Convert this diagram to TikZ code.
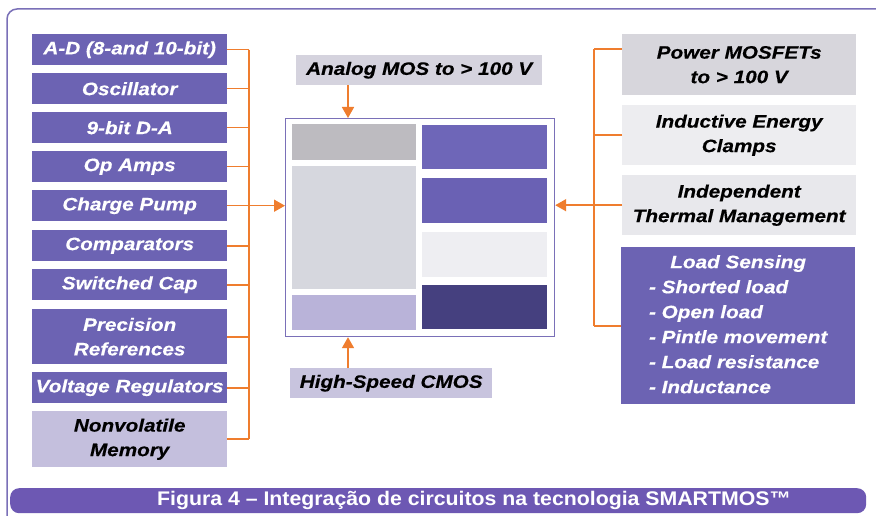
\documentclass[tikz,border=0pt]{standalone}
\usepackage{fontspec}
\setmainfont{Liberation Sans}[FakeStretch=1.15, BoldItalicFeatures={FakeBold=0.4}]
\newfontfamily\capfont{Liberation Sans}[FakeStretch=1.08]
\usetikzlibrary{arrows.meta}
\definecolor{boxpurple}{HTML}{6C63B3}
\definecolor{lavender}{HTML}{C4BFDD}
\definecolor{orng}{HTML}{EF7D2E}
\definecolor{framec}{HTML}{7A70B8}
\definecolor{lgray}{HTML}{D7D6DC}
\definecolor{vlgray}{HTML}{EDEDF0}
\definecolor{capc}{HTML}{6D58B3}
\begin{document}
\begin{tikzpicture}[x=1pt,y=-1pt,
  txt/.style={font=\fontsize{18}{24.5}\selectfont\bfseries\itshape, inner sep=0pt, align=center},
  lbox/.style={txt, fill=boxpurple, text=white, minimum width=195pt, anchor=north west},
  rbox/.style={txt, minimum width=234pt, anchor=north west},
  lbl/.style={txt, anchor=north west, text=black},
  wire/.style={draw=orng, line width=1.6pt},
  arr/.style={wire, -{Triangle[length=11pt,width=12pt]}},
  cell/.style={inner sep=0pt, anchor=north west}
]
\useasboundingbox (0,0) rectangle (876,516);
\clip (0,0) rectangle (876,516);
\fill[white] (0,0) rectangle (876,516);
% outer frame
\draw[framec, line width=1.5pt, rounded corners=10pt] (7,9) rectangle (910,540);

% left boxes
\node[lbox, minimum height=31pt] (ad)  at (32,34)  {A-D (8-and 10-bit)};
\node[lbox, minimum height=31pt] (osc) at (32,73)  {Oscillator};
\node[lbox, minimum height=31pt] (da)  at (32,112) {9-bit D-A};
\node[lbox, minimum height=31pt] (op)  at (32,151) {Op Amps};
\node[lbox, minimum height=31pt] (cp)  at (32,190) {Charge Pump};
\node[lbox, minimum height=31pt] (cmp) at (32,230) {Comparators};
\node[lbox, minimum height=31pt] (sc)  at (32,269) {Switched Cap};
\node[lbox, minimum height=55pt] (pr)  at (32,309) {Precision\\References};
\node[lbox, minimum height=31pt] (vr)  at (32,372) {Voltage Regulators};
\node[lbox, minimum height=56pt, fill=lavender, text=black] (nv) at (32,411) {Nonvolatile\\Memory};

% chip
\node[draw=framec, line width=1.2pt, fill=white, minimum width=269pt, minimum height=218pt, inner sep=0pt, anchor=north west] (chip) at (285,118) {};
\fill[fill={rgb,255:red,189;green,187;blue,192}] (292,124) rectangle (416,160);
\fill[fill={rgb,255:red,214;green,215;blue,222}] (292,166) rectangle (416,289);
\fill[fill={rgb,255:red,185;green,179;blue,217}] (292,295) rectangle (416,330);
\fill[fill={rgb,255:red,110;green,102;blue,184}] (422,125) rectangle (547,169);
\fill[fill={rgb,255:red,106;green,97;blue,180}] (422,178) rectangle (547,223);
\fill[fill={rgb,255:red,238;green,238;blue,242}] (422,232) rectangle (547,277);
\fill[fill={rgb,255:red,69;green,64;blue,127}] (422,285) rectangle (547,329);

% top and bottom labels
\node[lbl, fill={rgb,255:red,213;green,211;blue,222}, minimum width=246pt, minimum height=30pt] (amos) at (296,55) {Analog MOS to > 100 V};
\node[lbl, fill={rgb,255:red,200;green,196;blue,222}, minimum width=202pt, minimum height=30pt] (hs) at (290,368) {High-Speed CMOS};

% right boxes
\node[rbox, fill=lgray, minimum height=61pt] (pm)  at (622,34)  {Power MOSFETs\\to > 100 V};
\node[rbox, fill=vlgray, minimum height=60pt] (iec) at (622,105) {Inductive Energy\\Clamps};
\node[rbox, fill={rgb,255:red,232;green,232;blue,236}, minimum height=60pt] (itm) at (622,175) {Independent\\Thermal Management};
\node[rbox, fill=boxpurple, text=white, minimum height=157pt] (ls) at (621,247) {%
  \fontsize{18}{25}\selectfont\bfseries\itshape
  \begin{tabular}{@{}l@{}}
  \multicolumn{1}{@{}c@{}}{Load Sensing}\\
  - Shorted load\\
  - Open load\\
  - Pintle movement\\
  - Load resistance\\
  - Inductance
  \end{tabular}};

% left bus
\coordinate (lbt) at (249,0);
\draw[wire] (ad.east -| lbt) -- (nv.east -| lbt);
\foreach \n in {ad,osc,da,op,sc,cmp,pr,vr,nv}
  \draw[wire] (\n.east) -- (\n.east -| lbt);
\draw[arr] (cp.east) -- (chip.west |- cp.east);

% right bus
\coordinate (rbt) at (594,0);
\coordinate (pmtap) at ([yshift=-15pt]pm.north west);
\draw[wire] (pmtap -| rbt) -- (ls.west -| rbt);
\draw[wire] (pmtap) -- (pmtap -| rbt);
\foreach \n in {iec,ls}
  \draw[wire] (\n.west) -- (\n.west -| rbt);
\draw[arr] (itm.west) -- (chip.east |- itm.west);

% vertical arrows
\coordinate (ta) at ([xshift=52pt]amos.south west);
\draw[arr] (ta) -- (ta |- chip.north);
\coordinate (tb) at ([xshift=58pt]hs.north west);
\draw[arr] (tb) -- (tb |- chip.south);

% caption bar
\node[fill=capc, rounded corners=9pt, minimum width=856pt, minimum height=25pt, inner sep=0pt, anchor=north west] (bar) at (10,488) {};
\node[text=white, inner sep=0pt, font=\capfont\bfseries\fontsize{19.7}{21}\selectfont] (cap) at (474,500.5) {Figura 4 – Integração de circuitos na tecnologia SMARTMOS™};
\end{tikzpicture}
\end{document}
